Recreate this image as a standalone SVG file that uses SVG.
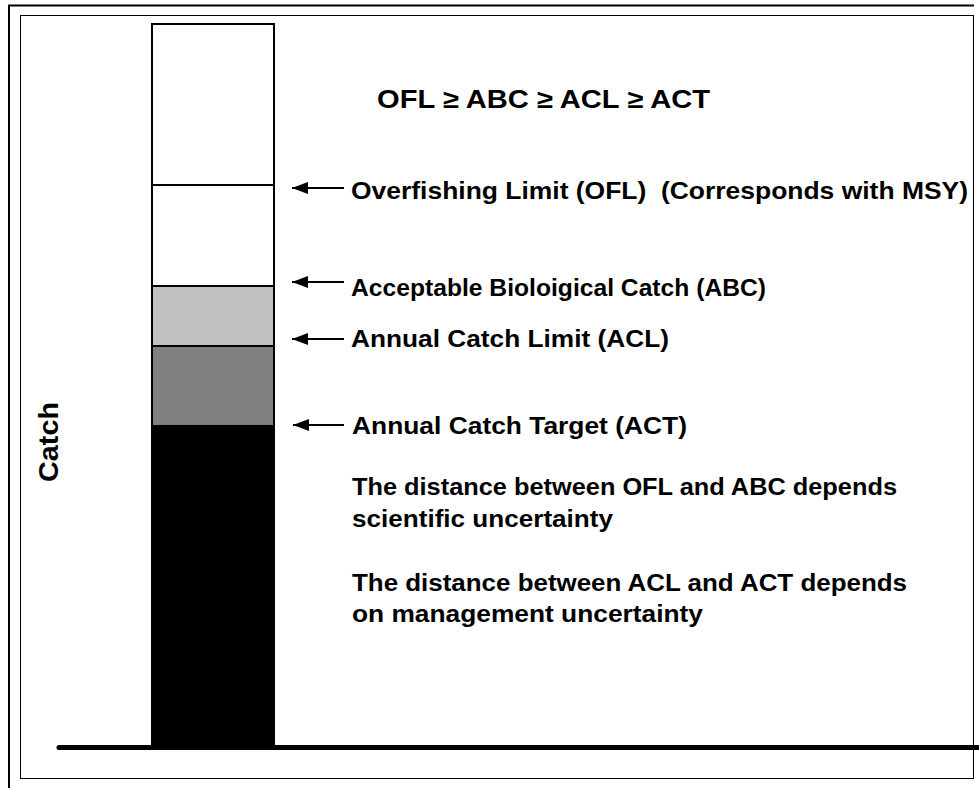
<svg xmlns="http://www.w3.org/2000/svg" width="979" height="788" viewBox="0 0 979 788">
<defs>
<style>
.t{font-family:"Liberation Sans",Arial,sans-serif;font-weight:bold;fill:#000;}
.lbl{font-size:23.5px;}
.conn{stroke:#000;stroke-width:2;fill:none;}
</style>
<marker id="ah" viewBox="0 0 16 12" refX="16" refY="6" markerWidth="16" markerHeight="12" markerUnits="userSpaceOnUse" orient="auto">
<path d="M0,0 L16,6 L0,12 Z" fill="#000"/>
</marker>
</defs>
<rect width="979" height="788" fill="#fff"/>
<g id="frame">
<path d="M9,788 V5.5 H974" fill="none" stroke="#000" stroke-width="2"/>
<rect x="20.5" y="15.5" width="953" height="763" fill="none" stroke="#000" stroke-width="1"/>
</g>
<g id="bar">
<rect x="152" y="24" width="122" height="161" fill="#fff"/>
<rect x="152" y="185" width="122" height="101" fill="#fff"/>
<rect x="152" y="286" width="122" height="60" fill="#c0c0c0"/>
<rect x="152" y="346" width="122" height="79" fill="#808080"/>
<rect x="152" y="425" width="122" height="323" fill="#000"/>
<path d="M152,185 H274 M152,286 H274 M152,346 H274" stroke="#000" stroke-width="2"/>
<rect x="152" y="24" width="122" height="724" fill="none" stroke="#000" stroke-width="2"/>
</g>
<g id="axis">
<line x1="59" y1="747.5" x2="979" y2="747.5" stroke="#000" stroke-width="5" stroke-linecap="round"/>
<text class="t" font-size="28" textLength="80" lengthAdjust="spacingAndGlyphs" text-anchor="middle" transform="translate(58,442) rotate(-90)">Catch</text>
</g>
<g id="title">
<text class="t" x="377" y="108" font-size="25.5" textLength="333" lengthAdjust="spacingAndGlyphs">OFL ≥ ABC ≥ ACL ≥ ACT</text>
</g>
<g id="label-ofl">
<text class="t lbl" x="351" y="199" textLength="617" lengthAdjust="spacingAndGlyphs" xml:space="preserve">Overfishing Limit (OFL)  (Corresponds with MSY)</text>
</g>
<g id="label-abc">
<text class="t lbl" x="351" y="295.5" textLength="415" lengthAdjust="spacingAndGlyphs">Acceptable Bioloigical Catch (ABC)</text>
</g>
<g id="label-acl">
<text class="t lbl" x="351" y="346.5" textLength="318" lengthAdjust="spacingAndGlyphs">Annual Catch Limit (ACL)</text>
</g>
<g id="label-act">
<text class="t lbl" x="352" y="433.5" textLength="335" lengthAdjust="spacingAndGlyphs">Annual Catch Target (ACT)</text>
</g>
<g id="note-scientific">
<text class="t lbl" x="352" y="495" textLength="545" lengthAdjust="spacingAndGlyphs">The distance between OFL and ABC depends</text>
<text class="t lbl" x="352" y="527" textLength="261" lengthAdjust="spacingAndGlyphs">scientific uncertainty</text>
</g>
<g id="note-management">
<text class="t lbl" x="352" y="591" textLength="555" lengthAdjust="spacingAndGlyphs">The distance between ACL and ACT depends</text>
<text class="t lbl" x="352" y="622" textLength="351" lengthAdjust="spacingAndGlyphs">on management uncertainty</text>
</g>
<g id="connectors">
<line class="conn" x1="344" y1="188" x2="292" y2="188" marker-end="url(#ah)"/>
<line class="conn" x1="344" y1="282" x2="292" y2="282" marker-end="url(#ah)"/>
<line class="conn" x1="344" y1="339" x2="292" y2="339" marker-end="url(#ah)"/>
<line class="conn" x1="344" y1="425" x2="293" y2="425" marker-end="url(#ah)"/>
</g>
</svg>
